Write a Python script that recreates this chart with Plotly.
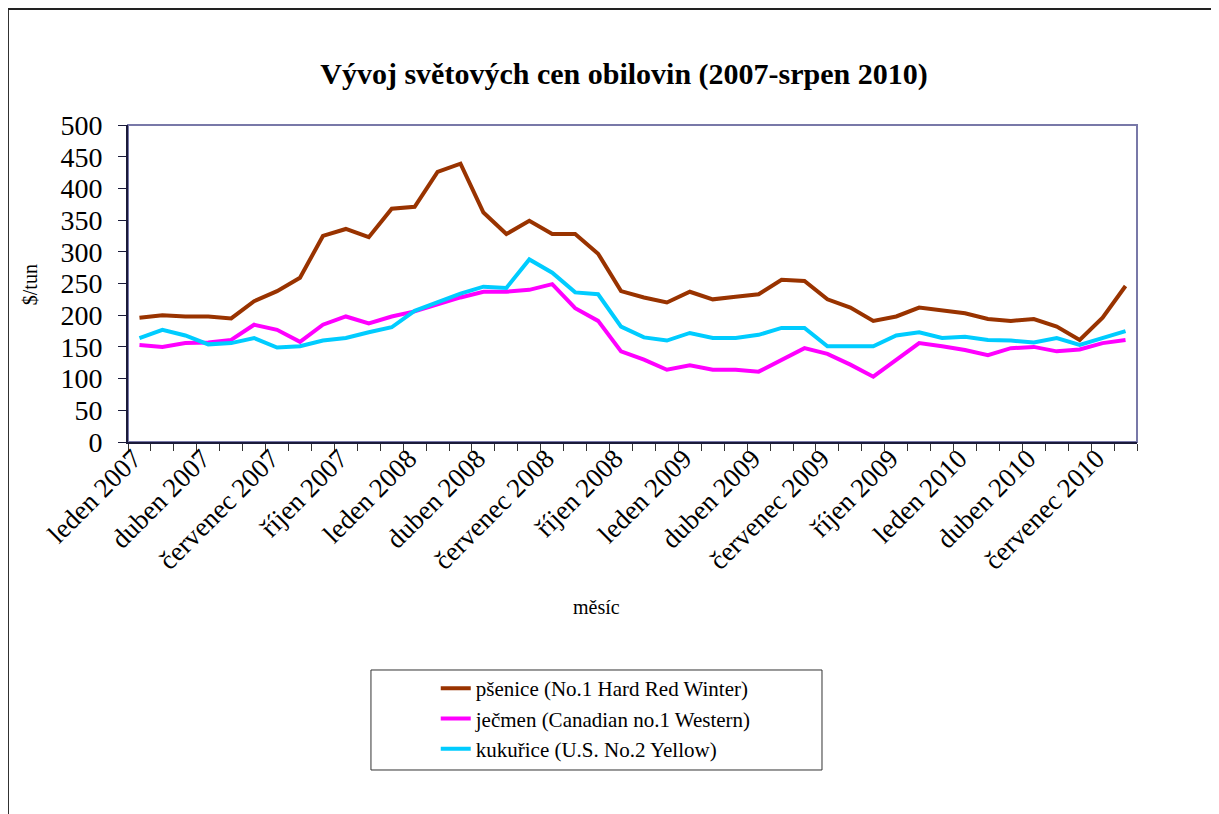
import plotly.graph_objects as go

# měsíční ceny, leden 2007 - srpen 2010 ($/tun)
mesice = list(range(44))
popisky_x = ["leden 2007", "duben 2007", "červenec 2007", "říjen 2007",
             "leden 2008", "duben 2008", "červenec 2008", "říjen 2008",
             "leden 2009", "duben 2009", "červenec 2009", "říjen 2009",
             "leden 2010", "duben 2010", "červenec 2010"]
pozice_x = [0, 3, 6, 9, 12, 15, 18, 21, 24, 27, 30, 33, 36, 39, 42]

psenice = [196, 200, 198, 198, 195, 222, 238, 259, 325, 336, 323, 368, 371, 426, 439,
           362, 328, 349, 328, 328, 297, 238, 228, 220, 237, 225, 229, 233, 256, 254,
           225, 212, 191, 198, 212, 208, 203, 194, 191, 194, 182, 161, 196, 246]
jecmen = [153, 150, 156, 157, 161, 185, 177, 158, 185, 198, 187, 198, 206, 217, 228,
          237, 237, 240, 249, 211, 191, 143, 130, 114, 121, 114, 114, 111, 130, 148,
          139, 122, 103, 130, 156, 151, 145, 137, 148, 150, 143, 146, 156, 161]
kukurice = [164, 177, 168, 154, 156, 164, 149, 151, 160, 164, 173, 181, 207, 220, 234,
            245, 243, 288, 267, 236, 233, 182, 165, 160, 172, 164, 164, 169, 180, 180,
            151, 151, 151, 168, 173, 164, 166, 161, 160, 157, 164, 153, 164, 175]

serie = [("pšenice (No.1 Hard Red Winter)", psenice, "#993300"),
         ("ječmen (Canadian no.1 Western)", jecmen, "#FF00FF"),
         ("kukuřice (U.S. No.2 Yellow)", kukurice, "#00CCFF")]

FONT = "Liberation Serif, Times New Roman, serif"

fig = go.Figure()
for i, (nazev, hodnoty, barva) in enumerate(serie):
    fig.add_trace(go.Scatter(x=mesice, y=hodnoty, mode="lines", name=nazev,
                             legendgroup=str(i),
                             line=dict(color=barva, width=4)))

# stránka má okraj 8 px, proto je obrázek o tolik menší
fig.update_layout(
    width=1211, height=806,
    margin=dict(l=120, r=82, t=117, b=372),
    paper_bgcolor="white", plot_bgcolor="white",
    font=dict(family=FONT, color="black"),
    title=dict(text="<b>Vývoj světových cen obilovin (2007-srpen 2010)</b>",
               x=0.5087, xanchor="center", y=0.919, yanchor="middle",
               font=dict(size=30, family=FONT)),
    showlegend=True,
    legend=dict(x=0.305, xanchor="left", y=-0.713, yanchor="top",
                bgcolor="rgba(0,0,0,0)", borderwidth=0,
                font=dict(size=21, family=FONT), tracegroupgap=0),
)

fig.update_xaxes(range=[-0.5, 43.5], tickmode="array", tickvals=pozice_x,
                 ticktext=popisky_x, tickangle=-45, ticks="",
                 ticklabelstandoff=-12, ticklabelshift=-6,
                 tickfont=dict(size=27, family=FONT),
                 showline=True, linecolor="#1a1a3a", linewidth=2,
                 showgrid=False, zeroline=False,
                 minor=dict(tickmode="linear", tick0=-0.5, dtick=1, ticks="outside",
                            ticklen=7, tickcolor="#333", tickwidth=1, showgrid=False))
fig.update_yaxes(range=[0, 500], dtick=50, ticks="outside", ticklen=8,
                 tickcolor="#1a1a3a", tickwidth=1, ticklabelstandoff=10,
                 tickfont=dict(size=28, family=FONT),
                 showline=True, linecolor="#1a1a3a", linewidth=2,
                 showgrid=False, zeroline=False)

# rámeček plochy grafu a celého grafu, rámeček legendy
fig.add_shape(type="rect", xref="paper", yref="paper", x0=0, x1=1, y0=0, y1=1,
              line=dict(color="#7878A8", width=2), layer="below")
fig.add_shape(type="rect", xref="paper", yref="paper", x0=-0.119, x1=1.09,
              y0=-1.2, y1=1.366, line=dict(color="#222", width=2))
fig.add_shape(type="rect", xref="paper", yref="paper", x0=0.2408, x1=0.6878,
              y0=-1.0347, y1=-0.7192, line=dict(color="#333", width=1))

fig.add_annotation(text="$/tun", xref="paper", yref="paper", x=-0.097, y=0.495,
                   xanchor="center", yanchor="middle",
                   textangle=-90, showarrow=False, font=dict(size=20, family=FONT))
fig.add_annotation(text="měsíc", xref="paper", yref="paper", x=0.4648, y=-0.5205,
                   xanchor="center", yanchor="middle",
                   showarrow=False, font=dict(size=20, family=FONT))

fig.write_html("out.html")
